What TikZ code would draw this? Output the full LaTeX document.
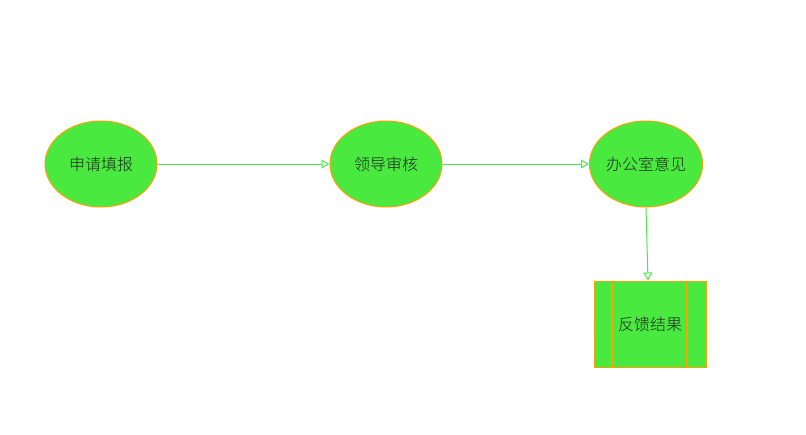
\documentclass[tikz,border=0pt]{standalone}
\usepackage{fontspec}
\newfontfamily\cjk{Noto Sans CJK SC Light}
\usetikzlibrary{arrows.meta,shapes.geometric}
\definecolor{nodegreen}{RGB}{74,233,64}
\definecolor{edgeorange}{RGB}{255,160,0}
\definecolor{linkgreen}{RGB}{76,230,76}
\definecolor{labelgray}{RGB}{30,40,30}
\tikzset{
  stepnode/.style={ellipse, draw=edgeorange, fill=nodegreen, line width=1pt, minimum width=112pt, minimum height=86pt, inner sep=0pt, text=labelgray, font=\cjk\fontsize{16}{18}\selectfont},
  resultnode/.style={rectangle, draw=edgeorange, fill=nodegreen, line width=1pt, minimum width=112pt, minimum height=86pt, inner sep=0pt, text=labelgray, font=\cjk\fontsize{16}{18}\selectfont,
    path picture={
      \draw[edgeorange, line width=1.5pt]
        ([xshift=18pt]path picture bounding box.north west) -- ([xshift=18pt]path picture bounding box.south west)
        ([xshift=-19pt]path picture bounding box.north east) -- ([xshift=-19pt]path picture bounding box.south east);
    }},
  link/.style={draw=linkgreen, line width=1pt, -{Triangle[open,length=8pt,width=9pt]}}
}
\begin{document}
\begin{tikzpicture}[x=1pt,y=-1pt]
  \useasboundingbox (0,0) rectangle (806,434);
  % steps
  \node[stepnode] (apply) at (101,164) {申请填报};
  \node[stepnode] (review) at (386,164) {领导审核};
  \node[stepnode] (office) at (646,164) {办公室意见};
  % result
  \node[resultnode] (result) at (650,324) {反馈结果};
  % links
  \draw[link] (apply) -- (review);
  \draw[link] (review) -- (office);
  \draw[link] (office.south) -- ([xshift=-2pt]result.north);
\end{tikzpicture}
\end{document}
